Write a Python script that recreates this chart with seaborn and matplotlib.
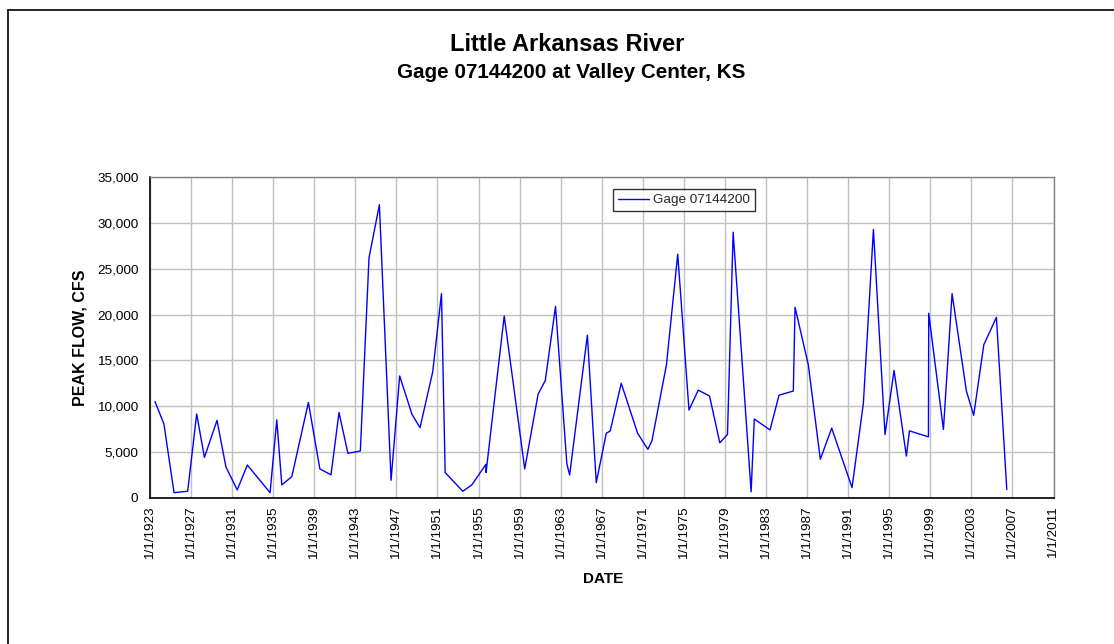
import numpy as np
import pandas as pd
import matplotlib
matplotlib.use("Agg")
import matplotlib.pyplot as plt
import matplotlib.dates as mdates
from matplotlib.ticker import FuncFormatter
import seaborn as sns

# Annual peak flow record, Little Arkansas River at Valley Center, KS
peak_dates = [
    "1923-06-28", "1924-05-10", "1925-05-05", "1926-09-02", "1927-07-20",
    "1928-04-20", "1929-07-12", "1930-05-26", "1931-07-01", "1932-06-25",
    "1934-09-12", "1935-05-08", "1935-11-03", "1936-10-24", "1938-06-06",
    "1939-07-19", "1940-08-18", "1941-05-30", "1942-04-12", "1943-06-28",
    "1944-05-01", "1945-05-05", "1946-06-25", "1947-04-27", "1948-07-08",
    "1949-04-20", "1950-07-16", "1951-05-23", "1951-10-01", "1953-06-20",
    "1954-05-08", "1955-09-20", "1955-09-25", "1957-07-02", "1959-07-02",
    "1960-10-19", "1961-07-02", "1962-07-02", "1963-08-08", "1963-11-15",
    "1965-08-08", "1966-06-20", "1967-06-10", "1967-10-30", "1968-11-24",
    "1970-07-01", "1971-07-01", "1971-11-24", "1973-04-20", "1974-05-27",
    "1975-07-01", "1976-05-27", "1977-07-02", "1978-07-02", "1979-04-01",
    "1979-10-19", "1981-07-20", "1981-11-10", "1983-05-22", "1984-04-08",
    "1985-08-29", "1985-10-30", "1987-02-14", "1988-04-15", "1989-05-26",
    "1991-05-19", "1992-06-25", "1993-06-18", "1994-08-04", "1995-06-21",
    "1996-09-02", "1996-12-20", "1998-10-27", "1998-11-06", "2000-04-12",
    "2001-02-14", "2002-07-08", "2003-03-25", "2004-03-18", "2005-06-10",
    "2006-06-14",
]
peak_flow_cfs = [
    10500, 8050, 550, 700, 9150,
    4400, 8450, 3350, 850, 3570,
    550, 8500, 1400, 2300, 10400,
    3150, 2500, 9300, 4850, 5100,
    26200, 32000, 1900, 13300, 9100,
    7650, 13750, 22300, 2750, 700,
    1400, 3650, 2750, 19850, 3150,
    11300, 12800, 20900, 3700, 2480,
    17750, 1650, 7030, 7300, 12500,
    7030, 5280, 6250, 14500, 26600,
    9580, 11750, 11100, 6000, 6900,
    29000, 650, 8600, 7400, 11200,
    11650, 20800, 14500, 4200, 7600,
    1100, 10300, 29300, 6900, 13900,
    4550, 7300, 6650, 20150, 7450,
    22300, 11650, 9000, 16700, 19700,
    900,
]
series_name = "Gage 07144200"
tick_years = list(range(1923, 2012, 4))
y_ticks = list(range(0, 35001, 5000))

df = pd.DataFrame({"DATE": pd.to_datetime(peak_dates), "PEAK": peak_flow_cfs})

sns.set_theme(style="white")
plt.rcParams["font.family"] = ["Liberation Sans", "DejaVu Sans"]

W, H = 1114, 644
fig = plt.figure(figsize=(W / 100, H / 100), dpi=100)
fig.patch.set_facecolor("white")

left, right, bottom, top = 150, 1053.5, 497.7, 177.3
ax = fig.add_axes([left / W, 1 - bottom / H, (right - left) / W, (bottom - top) / H])

sns.lineplot(data=df, x="DATE", y="PEAK", ax=ax, color="#0000FF",
             linewidth=1.0, label=series_name, estimator=None, sort=False)

ax.set_xlim(pd.Timestamp("1923-01-01"), pd.Timestamp("2011-01-01"))
ax.set_ylim(0, 35000)

tick_dates = [pd.Timestamp(f"{y}-01-01") for y in tick_years]
ax.set_xticks(tick_dates)
ax.set_xticklabels([f"1/1/{y}" for y in tick_years], rotation=90,
                   fontsize=9.7, color="black")
ax.set_yticks(y_ticks)
ax.yaxis.set_major_formatter(FuncFormatter(lambda v, p: f"{int(v):,}"))
ax.tick_params(axis="both", direction="out", length=4, width=1,
               color="black", labelsize=9.7, labelcolor="black", pad=4.3)
ax.tick_params(axis="x", pad=2)

ax.grid(True, color="#c0c0c0", linewidth=1)
ax.set_axisbelow(True)

for side in ("left", "bottom"):
    ax.spines[side].set_color("black")
    ax.spines[side].set_linewidth(1.2)
for side in ("top", "right"):
    ax.spines[side].set_color("#808080")
    ax.spines[side].set_linewidth(1.0)

ax.set_xlabel("")
ax.set_ylabel("")

leg = ax.legend(loc="upper left",
                bbox_to_anchor=((613.3 - left) / (right - left),
                                (bottom - 189.3) / (bottom - top)),
                borderaxespad=0, frameon=True, fancybox=False, shadow=False,
                fontsize=9.7, handlelength=2.3, handletextpad=0.3,
                borderpad=0.35)
leg.get_frame().set_edgecolor("black")
leg.get_frame().set_linewidth(1.0)

# Titles and axis labels
fig.text(567 / W, 1 - 50.7 / H, "Little Arkansas River", ha="center",
         va="baseline", fontsize=17, fontweight="bold", color="black")
fig.text(571 / W, 1 - 78 / H, "Gage 07144200 at Valley Center, KS",
         ha="center", va="baseline", fontsize=14.9, fontweight="bold",
         color="black")
fig.text(80 / W, 1 - 337.5 / H, "PEAK FLOW, CFS", ha="center", va="center",
         rotation=90, fontsize=11.5, fontweight="bold", color="black")
fig.text(603 / W, 1 - 579 / H, "DATE", ha="center", va="center",
         fontsize=11, fontweight="bold", color="black")

# Chart-area border (left and top edges fall inside the canvas)
fig.add_artist(plt.Line2D([7.5 / W, 7.5 / W], [0, 1 - 9.5 / H],
                          transform=fig.transFigure, color="black", lw=1.2))
fig.add_artist(plt.Line2D([7.5 / W, 1], [1 - 9.5 / H, 1 - 9.5 / H],
                          transform=fig.transFigure, color="black", lw=1.2))

fig.savefig("out.png", dpi=100, facecolor="white")
